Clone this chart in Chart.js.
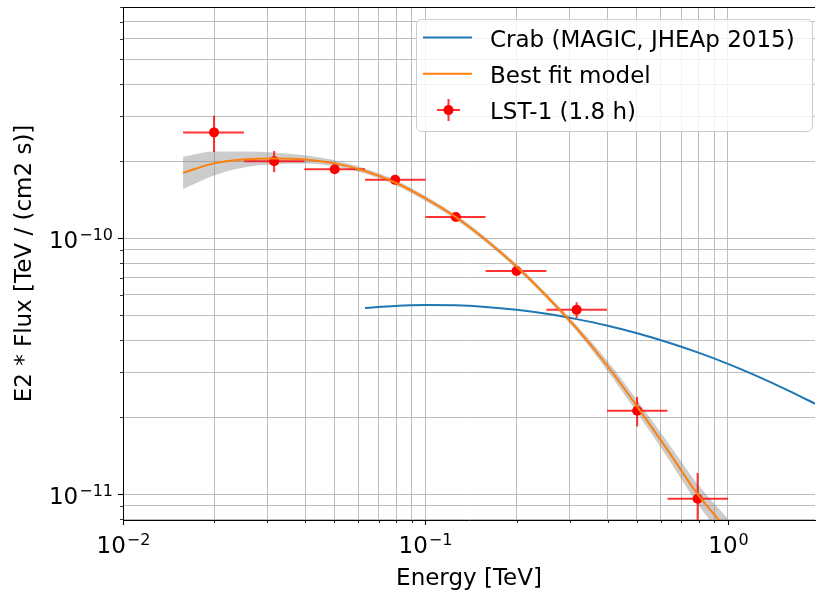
<!DOCTYPE html>
<html>
<head>
<meta charset="utf-8">
<title>LST-1 Crab SED</title>
<style>
  html, body { margin: 0; padding: 0; background: #fff; overflow: hidden; }
  canvas { display: block; }
</style>
</head>
<body>
<canvas id="sedChart" width="820" height="594"></canvas>
<script src="https://cdn.jsdelivr.net/npm/chart.js@4.4.0/dist/chart.umd.min.js"></script>
<script>
// LST-1 flux points (TeV, TeV cm-2 s-1)
const binCentre = [0.0200, 0.0316, 0.0501, 0.0794, 0.126, 0.200, 0.316, 0.501, 0.794];
const binLow    = [0.0158, 0.0251, 0.0398, 0.0631, 0.100, 0.158, 0.251, 0.398, 0.631];
const binHigh   = [0.0251, 0.0398, 0.0631, 0.100, 0.158, 0.251, 0.398, 0.631, 1.000];
const lstFlux    = [2.59e-10, 2.00e-10, 1.86e-10, 1.69e-10, 1.21e-10, 7.45e-11, 5.25e-11, 2.12e-11, 9.6e-12];
const lstFluxErr = [4.2e-11, 1.9e-11, 8e-12, 5e-12, 3e-12, 2e-12, 3.7e-12, 2.8e-12, 2.5e-12];

// best fit log-parabola and its error band
const modelEnergy = [0.0158, 0.0200, 0.0251, 0.0316, 0.0398, 0.0501, 0.0631, 0.0794, 0.100, 0.126,
                     0.158, 0.200, 0.251, 0.316, 0.398, 0.501, 0.631, 0.794, 1.000];
const fitFlux  = [1.80e-10, 1.96e-10, 2.03e-10, 2.05e-10, 2.03e-10, 1.96e-10, 1.83e-10, 1.65e-10, 1.43e-10, 1.208e-10,
                  9.86e-11, 7.75e-11, 5.95e-11, 4.45e-11, 3.19e-11, 2.20e-11, 1.49e-11, 1.00e-11, 7.2e-12];
const fitUpper = [2.081e-10, 2.183e-10, 2.180e-10, 2.161e-10, 2.107e-10, 2.015e-10, 1.872e-10, 1.688e-10, 1.463e-10, 1.236e-10,
                  1.009e-10, 7.93e-11, 6.09e-11, 4.57e-11, 3.34e-11, 2.33e-11, 1.60e-11, 1.094e-11, 8.02e-12];
const fitLower = [1.557e-10, 1.759e-10, 1.890e-10, 1.945e-10, 1.956e-10, 1.907e-10, 1.789e-10, 1.613e-10, 1.398e-10, 1.181e-10,
                  9.64e-11, 7.58e-11, 5.82e-11, 4.33e-11, 3.05e-11, 2.08e-11, 1.39e-11, 9.14e-12, 6.46e-12];

// MAGIC reference Crab spectrum
const crabEnergy = [0.0631, 0.0794, 0.100, 0.126, 0.158, 0.200, 0.251, 0.316, 0.398, 0.501,
                    0.631, 0.794, 1.000, 1.259, 1.585, 1.995];
const crabFlux   = [5.34e-11, 5.44e-11, 5.48e-11, 5.47e-11, 5.39e-11, 5.25e-11, 5.07e-11, 4.83e-11, 4.56e-11, 4.25e-11,
                    3.92e-11, 3.58e-11, 3.23e-11, 2.88e-11, 2.54e-11, 2.22e-11];

const xRange = [0.01, 1.94];
const yRange = [7.93e-12, 8.0e-10];

const FONT = '"DejaVu Sans", sans-serif';
const TEXT_PX = 23;
const SUP_PX = 16;

const pairs = (xs, ys) => xs.map((v, i) => ({ x: v, y: ys[i] }));

// 1..9 x 10^n ticks, majors on the decades
function decadeTicks(min, max) {
  const out = [];
  for (let e = Math.floor(Math.log10(min)); e <= Math.ceil(Math.log10(max)); e++) {
    for (let m = 1; m <= 9; m++) {
      const v = m * Math.pow(10, e);
      if (v >= min * 0.9999 && v <= max * 1.0001) out.push({ value: v, major: m === 1 });
    }
  }
  return out;
}

function drawPower(ctx, exp, x, base, align) {
  const sup = (exp < 0 ? '\u2212' : '') + Math.abs(exp);
  ctx.font = TEXT_PX + 'px ' + FONT;
  const w1 = ctx.measureText('10').width;
  ctx.font = SUP_PX + 'px ' + FONT;
  const w2 = ctx.measureText(sup).width + 1;
  const left = align === 'center' ? x - (w1 + w2) / 2 : x - w1 - w2;
  ctx.textAlign = 'left';
  ctx.textBaseline = 'alphabetic';
  ctx.font = TEXT_PX + 'px ' + FONT;
  ctx.fillText('10', left, base);
  ctx.font = SUP_PX + 'px ' + FONT;
  ctx.fillText(sup, left + w1 + 1, base - 8);
}

// x/y error bars under the LST-1 markers
const errorBars = {
  id: 'errorBars',
  beforeDatasetDraw(chart, args) {
    if (chart.data.datasets[args.index].label !== 'LST-1 (1.8 h)') return;
    const { ctx, chartArea: a, scales: { x, y } } = chart;
    ctx.save();
    ctx.beginPath();
    ctx.rect(a.left, a.top, a.right - a.left, a.bottom - a.top);
    ctx.clip();
    ctx.strokeStyle = 'rgba(255,0,0,0.8)';
    ctx.lineWidth = 2;
    binCentre.forEach((e, i) => {
      const cx = x.getPixelForValue(e);
      const cy = y.getPixelForValue(lstFlux[i]);
      ctx.beginPath();
      ctx.moveTo(x.getPixelForValue(binLow[i]), cy);
      ctx.lineTo(x.getPixelForValue(binHigh[i]), cy);
      ctx.stroke();
      ctx.beginPath();
      ctx.moveTo(cx, y.getPixelForValue(lstFlux[i] + lstFluxErr[i]));
      ctx.lineTo(cx, y.getPixelForValue(Math.max(lstFlux[i] - lstFluxErr[i], 1e-13)));
      ctx.stroke();
    });
    ctx.restore();
  }
};

// spines, tick marks, tick labels, axis titles
const axisDecor = {
  id: 'axisDecor',
  afterDraw(chart) {
    const { ctx, chartArea: a, scales: { x, y } } = chart;
    ctx.save();
    ctx.strokeStyle = '#000';
    ctx.fillStyle = '#000';
    ctx.lineWidth = 1;
    ctx.beginPath();
    ctx.moveTo(a.left, a.top + 0.5);
    ctx.lineTo(a.right, a.top + 0.5);
    ctx.stroke();

    x.ticks.forEach(t => {
      const px = Math.round(x.getPixelForValue(t.value)) + 0.5;
      ctx.lineWidth = t.major ? 1.1 : 0.8;
      ctx.beginPath();
      ctx.moveTo(px, a.bottom);
      ctx.lineTo(px, a.bottom + (t.major ? 5 : 3));
      ctx.stroke();
      if (t.major) drawPower(ctx, Math.round(Math.log10(t.value)), px, a.bottom + 33, 'center');
    });
    y.ticks.forEach(t => {
      const py = Math.round(y.getPixelForValue(t.value)) + 0.5;
      ctx.lineWidth = t.major ? 1.1 : 0.8;
      ctx.beginPath();
      ctx.moveTo(a.left, py);
      ctx.lineTo(a.left - (t.major ? 5 : 3), py);
      ctx.stroke();
      if (t.major) drawPower(ctx, Math.round(Math.log10(t.value)), a.left - 10, py + 9, 'right');
    });

    ctx.font = TEXT_PX + 'px ' + FONT;
    ctx.textAlign = 'center';
    ctx.textBaseline = 'alphabetic';
    ctx.fillText('Energy [TeV]', (a.left + a.right) / 2, 585);
    ctx.translate(25, (a.top + a.bottom) / 2);
    ctx.rotate(-Math.PI / 2);
    ctx.textBaseline = 'middle';
    ctx.fillText('E2 * Flux [TeV / (cm2 s)]', 0, 0);
    ctx.restore();
  }
};

// framed legend in the upper right corner
const legendBox = {
  id: 'legendBox',
  afterDraw(chart) {
    const ctx = chart.ctx;
    const entries = ['Crab (MAGIC, JHEAp 2015)', 'Best fit model', 'LST-1 (1.8 h)']
      .map(l => chart.data.datasets.find(d => d.label === l));
    ctx.save();
    ctx.beginPath();
    if (ctx.roundRect) ctx.roundRect(416.5, 19.5, 396, 112, 5);
    else ctx.rect(416.5, 19.5, 396, 112);
    ctx.fillStyle = 'rgba(255,255,255,0.8)';
    ctx.fill();
    ctx.strokeStyle = '#cccccc';
    ctx.lineWidth = 1;
    ctx.stroke();

    entries.forEach((ds, i) => {
      const cy = 37.5 + i * 36.3;
      if (ds.showLine === false) {
        ctx.strokeStyle = 'rgba(255,0,0,0.8)';
        ctx.lineWidth = 2;
        ctx.beginPath();
        ctx.moveTo(437, cy); ctx.lineTo(460, cy);
        ctx.moveTo(448.5, cy - 11); ctx.lineTo(448.5, cy + 11);
        ctx.stroke();
        ctx.fillStyle = ds.pointBackgroundColor;
        ctx.beginPath();
        ctx.arc(448.5, cy, 5, 0, Math.PI * 2);
        ctx.fill();
      } else {
        ctx.strokeStyle = ds.borderColor;
        ctx.lineWidth = 2;
        ctx.beginPath();
        ctx.moveTo(423, cy); ctx.lineTo(472, cy);
        ctx.stroke();
      }
      ctx.fillStyle = '#000';
      ctx.font = TEXT_PX + 'px ' + FONT;
      ctx.textAlign = 'left';
      ctx.textBaseline = 'alphabetic';
      ctx.fillText(ds.label, 490, cy + 9);
    });
    ctx.restore();
  }
};

const gridOpts = { color: '#bdbdbd', lineWidth: 1, drawTicks: false };

new Chart(document.getElementById('sedChart'), {
  type: 'line',
  data: {
    datasets: [
      {
        label: 'Best fit model',
        data: pairs(modelEnergy, fitFlux),
        borderColor: '#ff7f0e',
        borderWidth: 2,
        pointRadius: 0,
        cubicInterpolationMode: 'monotone',
        order: 0
      },
      {
        label: 'LST-1 (1.8 h)',
        data: pairs(binCentre, lstFlux),
        showLine: false,
        pointRadius: 5,
        pointBackgroundColor: '#ff0000',
        pointBorderColor: '#ff0000',
        pointBorderWidth: 0,
        order: 1
      },
      {
        label: 'Crab (MAGIC, JHEAp 2015)',
        data: pairs(crabEnergy, crabFlux),
        borderColor: '#1f77b4',
        borderWidth: 2,
        pointRadius: 0,
        cubicInterpolationMode: 'monotone',
        order: 2
      },
      {
        label: 'fit band upper',
        data: pairs(modelEnergy, fitUpper),
        borderColor: 'transparent',
        borderWidth: 0,
        pointRadius: 0,
        cubicInterpolationMode: 'monotone',
        fill: false,
        order: 3
      },
      {
        label: 'fit band lower',
        data: pairs(modelEnergy, fitLower),
        borderColor: 'transparent',
        borderWidth: 0,
        pointRadius: 0,
        cubicInterpolationMode: 'monotone',
        backgroundColor: 'rgba(128,128,128,0.4)',
        fill: '-1',
        order: 4
      }
    ]
  },
  options: {
    responsive: false,
    animation: false,
    capBezierPoints: false,
    layout: { padding: { top: 7, right: 0, bottom: 0, left: 0 } },
    plugins: {
      legend: { display: false },
      tooltip: { enabled: false }
    },
    scales: {
      x: {
        type: 'logarithmic',
        min: xRange[0],
        max: xRange[1],
        afterBuildTicks: s => { s.ticks = decadeTicks(s.min, s.max); },
        afterFit: s => { s.height = 74; },
        ticks: { display: false, autoSkip: false },
        grid: gridOpts,
        border: { color: '#000', width: 1 }
      },
      y: {
        type: 'logarithmic',
        min: yRange[0],
        max: yRange[1],
        afterBuildTicks: s => { s.ticks = decadeTicks(s.min, s.max); },
        afterFit: s => { s.width = 123; },
        ticks: { display: false, autoSkip: false },
        grid: gridOpts,
        border: { color: '#000', width: 1 }
      }
    }
  },
  plugins: [errorBars, axisDecor, legendBox]
});
</script>
</body>
</html>
